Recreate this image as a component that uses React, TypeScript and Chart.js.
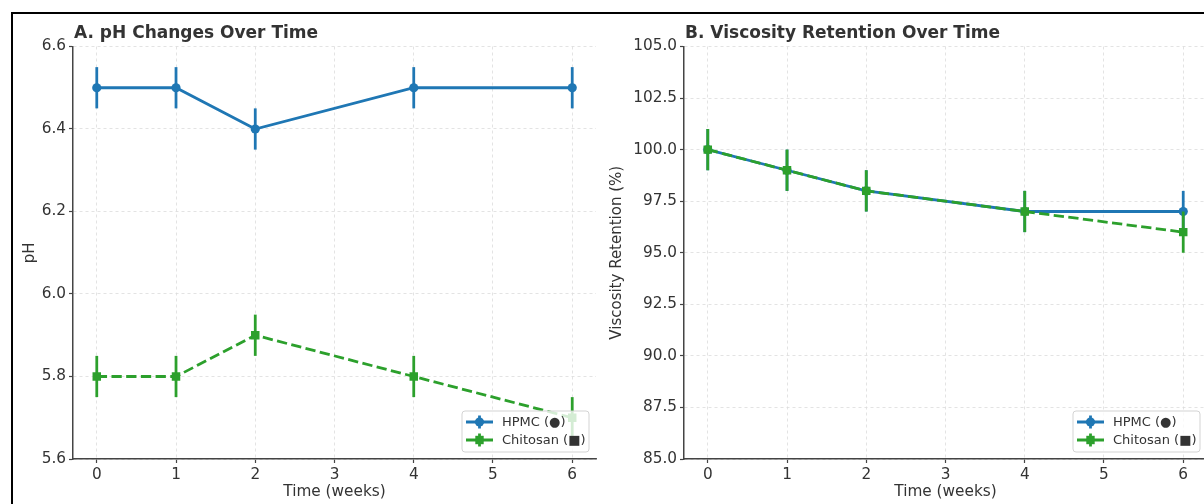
import React, { useEffect, useRef } from 'react';
import { Chart, registerables } from 'chart.js';

Chart.register(...registerables);

const FONT = "'DejaVu Sans', sans-serif";

const weeks = [0, 1, 2, 4, 6];
const xTicks = [0, 1, 2, 3, 4, 5, 6];

const phHPMC = [6.5, 6.5, 6.4, 6.5, 6.5];
const phChitosan = [5.8, 5.8, 5.9, 5.8, 5.7];
const phErrHPMC = [0.05, 0.05, 0.05, 0.05, 0.05];
const phErrChitosan = [0.05, 0.05, 0.05, 0.05, 0.05];
const phTicks = [5.6, 5.8, 6.0, 6.2, 6.4, 6.6];

const viscHPMC = [100, 99, 98, 97, 97];
const viscChitosan = [100, 99, 98, 97, 96];
const viscErrHPMC = [1, 1, 1, 1, 1];
const viscErrChitosan = [1, 1, 1, 1, 1];
const viscTicks = [85, 87.5, 90, 92.5, 95, 97.5, 100, 102.5, 105];

const seriesLabels = ['HPMC (●)', 'Chitosan (■)'];
const BLUE = '#1f77b4';
const GREEN = '#2ca02c';
const LW = 2.78;

const errorBarPlugin = {
  id: 'errorBars',
  beforeDatasetDraw(chart: any, args: any) {
    const ds: any = chart.data.datasets[args.index];
    const errs: number[] = ds.errors;
    if (!errs) return;
    const ys = chart.scales.y;
    const ctx = chart.ctx;
    ctx.save();
    ctx.strokeStyle = ds.borderColor;
    ctx.lineWidth = LW;
    ctx.setLineDash([]);
    args.meta.data.forEach((pt: any, j: number) => {
      const v = ds.data[j].y;
      ctx.beginPath();
      ctx.moveTo(pt.x, ys.getPixelForValue(v - errs[j]));
      ctx.lineTo(pt.x, ys.getPixelForValue(v + errs[j]));
      ctx.stroke();
    });
    ctx.restore();
  },
};

const titlePlugin = {
  id: 'panelTitle',
  afterDraw(chart: any, _a: any, opts: any) {
    const { ctx, chartArea } = chart;
    ctx.save();
    ctx.font = `bold 17px ${FONT}`;
    ctx.fillStyle = '#333333';
    ctx.textAlign = 'left';
    ctx.textBaseline = 'alphabetic';
    ctx.fillText(opts.text, chartArea.left + 1, chartArea.top - 9);
    ctx.restore();
  },
};

const legendPlugin = {
  id: 'boxLegend',
  afterDraw(chart: any) {
    const { ctx, chartArea } = chart;
    const w = 127;
    const h = 41;
    const x0 = chartArea.right - 7 - w;
    const y0 = chartArea.bottom - 7 - h;
    ctx.save();
    ctx.beginPath();
    ctx.roundRect(x0, y0, w, h, 3);
    ctx.fillStyle = 'rgba(255,255,255,0.8)';
    ctx.fill();
    ctx.strokeStyle = '#d3d3d3';
    ctx.lineWidth = 1;
    ctx.stroke();
    chart.data.datasets.forEach((ds: any, i: number) => {
      const cy = y0 + 11 + i * 18;
      const cx = x0 + 17.5;
      ctx.strokeStyle = ds.borderColor;
      ctx.fillStyle = ds.borderColor;
      ctx.lineWidth = LW;
      ctx.setLineDash([]);
      ctx.beginPath();
      ctx.moveTo(x0 + 4, cy);
      ctx.lineTo(x0 + 31, cy);
      ctx.moveTo(cx, cy - 6.5);
      ctx.lineTo(cx, cy + 6.5);
      ctx.stroke();
      ctx.beginPath();
      if (ds.pointStyle === 'rect') {
        ctx.rect(cx - 4.2, cy - 4.2, 8.4, 8.4);
      } else {
        ctx.arc(cx, cy, 4.6, 0, Math.PI * 2);
      }
      ctx.fill();
      ctx.font = `13px ${FONT}`;
      ctx.fillStyle = '#333333';
      ctx.textAlign = 'left';
      ctx.textBaseline = 'middle';
      ctx.fillText(ds.label, x0 + 40, cy + 0.5);
    });
    ctx.restore();
  },
};

type PanelProps = {
  left: number;
  width: number;
  yAxisWidth: number;
  rightPad: number;
  title: string;
  yLabel: string;
  yLabelPad: number;
  yMin: number;
  yMax: number;
  yTicks: number[];
  hpmc: number[];
  chitosan: number[];
  errH: number[];
  errC: number[];
};

function Panel(p: PanelProps) {
  const ref = useRef<HTMLCanvasElement | null>(null);
  useEffect(() => {
    if (!ref.current) return;
    const gridColor = '#dcdcdc';
    const chart = new Chart(ref.current, {
      type: 'line',
      data: {
        datasets: [
          {
            label: seriesLabels[0],
            data: weeks.map((w, i) => ({ x: w, y: p.hpmc[i] })),
            borderColor: BLUE,
            backgroundColor: BLUE,
            borderWidth: LW,
            pointStyle: 'circle',
            pointRadius: 4.6,
            pointBorderWidth: 0,
            pointBackgroundColor: BLUE,
            tension: 0,
            order: 2,
            errors: p.errH,
          } as any,
          {
            label: seriesLabels[1],
            data: weeks.map((w, i) => ({ x: w, y: p.chitosan[i] })),
            borderColor: GREEN,
            backgroundColor: GREEN,
            borderWidth: LW,
            borderDash: [10.3, 4.4],
            pointStyle: 'rect',
            pointRadius: 6,
            pointBorderWidth: 0,
            pointBackgroundColor: GREEN,
            tension: 0,
            order: 1,
            errors: p.errC,
          } as any,
        ],
      },
      options: {
        animation: false,
        responsive: false,
        devicePixelRatio: 1,
        layout: { padding: { top: 46.5, right: p.rightPad, bottom: 0, left: 0 } },
        plugins: {
          legend: { display: false },
          tooltip: { enabled: false },
          panelTitle: { text: p.title },
        } as any,
        scales: {
          x: {
            type: 'linear',
            min: -0.3,
            max: 6.3,
            afterBuildTicks: (s: any) => {
              s.ticks = xTicks.map((v) => ({ value: v }));
            },
            afterFit: (s: any) => {
              s.height = 45;
            },
            grid: {
              color: gridColor,
              lineWidth: 0.8,
              drawTicks: true,
              tickLength: 4,
              tickColor: '#444444',
              tickWidth: 1.2,
              tickBorderDash: [],
            } as any,
            border: { display: true, color: '#444444', width: 1.5, dash: [3, 3] },
            ticks: {
              color: '#333333',
              font: { family: FONT, size: 15.3 },
              padding: 3,
              callback: (v: any) => String(v),
            },
            title: {
              display: true,
              text: 'Time (weeks)',
              color: '#333333',
              font: { family: FONT, size: 15.3 },
              padding: { top: 0, bottom: 3 },
            },
          },
          y: {
            type: 'linear',
            min: p.yMin,
            max: p.yMax,
            afterBuildTicks: (s: any) => {
              s.ticks = p.yTicks.map((v) => ({ value: v }));
            },
            afterFit: (s: any) => {
              s.width = p.yAxisWidth;
            },
            grid: {
              color: gridColor,
              lineWidth: 0.8,
              drawTicks: true,
              tickLength: 4,
              tickColor: '#444444',
              tickWidth: 1.2,
              tickBorderDash: [],
            } as any,
            border: { display: true, color: '#444444', width: 1.5, dash: [3, 3] },
            ticks: {
              color: '#333333',
              font: { family: FONT, size: 15.3 },
              padding: 3,
              callback: (v: any) => Number(v).toFixed(1),
            },
            title: {
              display: true,
              text: p.yLabel,
              color: '#333333',
              font: { family: FONT, size: 15 },
              padding: { top: p.yLabelPad, bottom: 0 },
            },
          },
        },
      },
      plugins: [errorBarPlugin, titlePlugin, legendPlugin],
    });
    return () => chart.destroy();
  }, []);
  return (
    <canvas
      ref={ref}
      width={p.width}
      height={504}
      style={{ position: 'absolute', left: p.left, top: 0, width: p.width, height: 504 }}
    />
  );
}

export default function App() {
  return (
    <div
      style={{
        position: 'fixed',
        left: 0,
        top: 0,
        width: 1204,
        height: 504,
        overflow: 'hidden',
        background: '#ffffff',
      }}
    >
      <Panel
        left={0}
        width={602}
        yAxisWidth={73}
        rightPad={6}
        title="A. pH Changes Over Time"
        yLabel="pH"
        yLabelPad={21}
        yMin={5.6}
        yMax={6.6}
        yTicks={phTicks}
        hpmc={phHPMC}
        chitosan={phChitosan}
        errH={phErrHPMC}
        errC={phErrChitosan}
      />
      <Panel
        left={602}
        width={618}
        yAxisWidth={82}
        rightPad={13}
        title="B. Viscosity Retention Over Time"
        yLabel="Viscosity Retention (%)"
        yLabelPad={6.5}
        yMin={85}
        yMax={105}
        yTicks={viscTicks}
        hpmc={viscHPMC}
        chitosan={viscChitosan}
        errH={viscErrHPMC}
        errC={viscErrChitosan}
      />
      <div
        style={{
          position: 'absolute',
          left: 11,
          top: 12,
          width: 1210,
          height: 520,
          border: '2px solid #000',
          boxSizing: 'border-box',
          pointerEvents: 'none',
        }}
      />
    </div>
  );
}
